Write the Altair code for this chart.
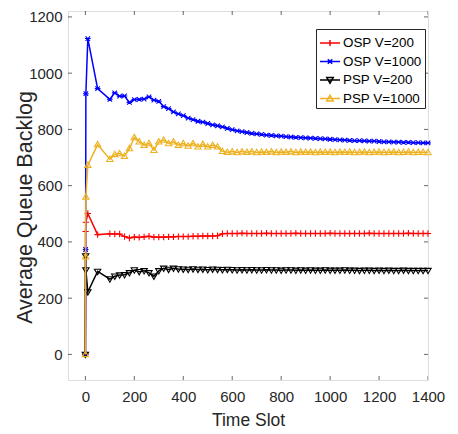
import altair as alt
import pandas as pd

# ---------------- data ----------------
time_slots = [0, 1, 2, 10, 50, 100,
              120, 140, 160, 180, 200, 220, 240, 260, 280, 300,
              320, 340, 360, 380, 400, 420, 440, 460, 480, 500,
              520, 540, 560, 580, 600, 620, 640, 660, 680, 700,
              720, 740, 760, 780, 800, 820, 840, 860, 880, 900,
              920, 940, 960, 980, 1000, 1020, 1040, 1060, 1080, 1100,
              1120, 1140, 1160, 1180, 1200, 1220, 1240, 1260, 1280, 1300,
              1320, 1340, 1360, 1380, 1400]

osp_200 = [0, 437, 470, 501, 426, 429,
           428, 428, 419, 414, 417, 416, 418, 420, 417, 417,
           417, 418, 418, 419, 419, 419, 420, 420, 421, 421,
           421, 422, 429, 430, 430, 430, 431, 430, 430, 430,
           430, 431, 430, 430, 430, 430, 430, 431, 430, 430,
           430, 430, 430, 430, 431, 430, 430, 430, 430, 430,
           430, 430, 431, 430, 430, 430, 430, 430, 430, 430,
           431, 430, 430, 430, 430]

osp_1000 = [0, 373, 927, 1123, 945, 907,
            930, 918, 919, 896, 906, 907, 908, 916, 904, 900,
            881, 874, 862, 855, 849, 840, 835, 829, 826, 821,
            816, 813, 809, 804, 799, 795, 792, 789, 786, 784,
            782, 780, 779, 777, 776, 774, 773, 772, 771, 770,
            769, 768, 767, 766, 765, 764, 763, 762, 761, 760,
            760, 759, 758, 758, 757, 756, 756, 755, 755, 754,
            754, 753, 753, 752, 752]

psp_200 = [0, 350, 300, 222, 295, 268,
           278, 282, 283, 290, 300, 294, 297, 290, 278, 297,
           306, 302, 306, 304, 303, 302, 304, 302, 303, 301,
           303, 302, 301, 302, 301, 300, 301, 300, 301, 300,
           300, 301, 300, 300, 299, 300, 300, 299, 300, 299,
           300, 299, 299, 300, 299, 299, 299, 300, 299, 299,
           298, 299, 299, 298, 299, 298, 299, 298, 298, 299,
           298, 298, 298, 298, 298]

psp_1000 = [0, 347, 560, 673, 746, 694,
            711, 714, 705, 732, 771, 756, 744, 750, 726, 756,
            762, 750, 756, 744, 750, 741, 750, 738, 747, 738,
            744, 738, 722, 719, 721, 718, 721, 719, 721, 718,
            720, 719, 721, 718, 720, 719, 721, 718, 720, 719,
            720, 718, 720, 719, 720, 718, 720, 719, 720, 718,
            719, 720, 718, 719, 720, 718, 719, 720, 718, 719,
            720, 718, 719, 719, 718]

series_names = ["OSP V=200", "OSP V=1000", "PSP V=200", "PSP V=1000"]
series_values = [osp_200, osp_1000, psp_200, psp_1000]
series_colors = ["#FF0000", "#0000FF", "#000000", "#EDB120"]

x_ticks = [0, 200, 400, 600, 800, 1000, 1200, 1400]
y_ticks = [0, 200, 400, 600, 800, 1000, 1200]
x_domain = [-71, 1400]
y_domain = [-91, 1221]

for vals in series_values:
    assert len(vals) == len(time_slots)

# ---------------- styling ----------------
AX = "#262626"
FONT = "Liberation Sans, Arial, Helvetica, sans-serif"

marker_paths = [
    "M-1,0H1M0,-1V1",
    "M-1,0H1M-0.8,-0.8L0.8,0.8M-0.8,0.8L0.8,-0.8",
    "M-1,-0.7L1,-0.7L0,1Z",
    "M0,-1L1,0.7L-1,0.7Z",
]
legend_paths = [
    "M-1,0H1M0,-0.3V0.3",
    "M-1,0H1M-0.22,-0.22L0.22,0.22M-0.22,0.22L0.22,-0.22",
    "M-1,0H1M-0.32,-0.24L0.32,-0.24L0,0.32Z",
    "M-1,0H1M0,-0.32L0.32,0.24L-0.32,0.24Z",
]
marker_sizes = [40, 32, 40, 40]

rows = []
for name, vals in zip(series_names, series_values):
    for t, v in zip(time_slots, vals):
        rows.append({"t": t, "v": v, "series": name})
df = pd.DataFrame(rows)

xs = alt.Scale(domain=x_domain, nice=False, zero=False)
ys = alt.Scale(domain=y_domain, nice=False, zero=False)

x_axis = alt.Axis(values=x_ticks, format="d", grid=False, ticks=False, tickSize=0, domain=False,
                  labelFont=FONT, labelFontSize=15, labelColor=AX, labelPadding=9,
                  labelFlush=False, labelOverlap=False,
                  titleFont=FONT, titleFontSize=17.5, titleColor=AX,
                  titleFontWeight="normal", titlePadding=7)
y_axis = alt.Axis(values=y_ticks, format="d", grid=False, ticks=False, tickSize=0, domain=False,
                  labelFont=FONT, labelFontSize=15, labelColor=AX, labelPadding=6,
                  labelFlush=False, labelOverlap=False,
                  titleFont=FONT, titleFontSize=21.5, titleColor=AX,
                  titleFontWeight="normal", titleAngle=270, titleAlign="center",
                  titleBaseline="alphabetic", titleX=-37, titleY=196)

X = alt.X("t:Q", scale=xs, axis=x_axis, title="Time Slot")
Y = alt.Y("v:Q", scale=ys, axis=y_axis, title="Average Queue Backlog")

base = alt.Chart(df)
layers = []
for name, col, path, msize in zip(series_names, series_colors, marker_paths, marker_sizes):
    sub = base.transform_filter(alt.datum.series == name)
    layers.append(sub.mark_line(color=col, strokeWidth=1.5).encode(x=X, y=Y))
    layers.append(sub.mark_point(shape=path, size=msize, filled=False, color=col,
                                 strokeWidth=1.1, opacity=1).encode(x=X, y=Y))

# inward box ticks (clipped half of a centered tick)
xt = alt.Chart(pd.DataFrame({"t": x_ticks}))
yt = alt.Chart(pd.DataFrame({"v": y_ticks}))
layers.append(xt.mark_tick(orient="vertical", size=8, thickness=1, color=AX, clip=True)
              .encode(x=X, y=alt.datum(y_domain[0])))
layers.append(xt.mark_tick(orient="vertical", size=8, thickness=1, color=AX, clip=True)
              .encode(x=X, y=alt.datum(y_domain[1])))
layers.append(yt.mark_tick(orient="horizontal", size=8, thickness=1, color=AX, clip=True)
              .encode(y=Y, x=alt.datum(x_domain[0])))
layers.append(yt.mark_tick(orient="horizontal", size=8, thickness=1, color=AX, clip=True)
              .encode(y=Y, x=alt.datum(x_domain[1])))

legend = alt.Legend(title=None, orient="none", legendX=248, legendY=18,
                    strokeColor=AX, fillColor="white", padding=3,
                    symbolSize=400, symbolStrokeWidth=1.5, labelOffset=2,
                    rowPadding=0.5, labelFont=FONT, labelFontSize=13.4,
                    labelColor="black", labelLimit=0)
layers.append(base.transform_filter("false")
              .mark_point(filled=False, opacity=1)
              .encode(x=X, y=Y,
                      stroke=alt.Stroke("series:N", scale=alt.Scale(domain=series_names, range=series_colors), legend=legend),
                      shape=alt.Shape("series:N", scale=alt.Scale(domain=series_names, range=legend_paths), legend=legend)))

chart = (alt.layer(*layers)
         .properties(width=360, height=369,
                     autosize=alt.AutoSizeParams(type="none"),
                     padding={"left": 60, "top": 3, "right": 22, "bottom": 54})
         .configure_view(stroke=AX, strokeWidth=1)
         .configure(background="white"))

chart.save("out.html", embed_options={"renderer": "svg", "actions": False})
